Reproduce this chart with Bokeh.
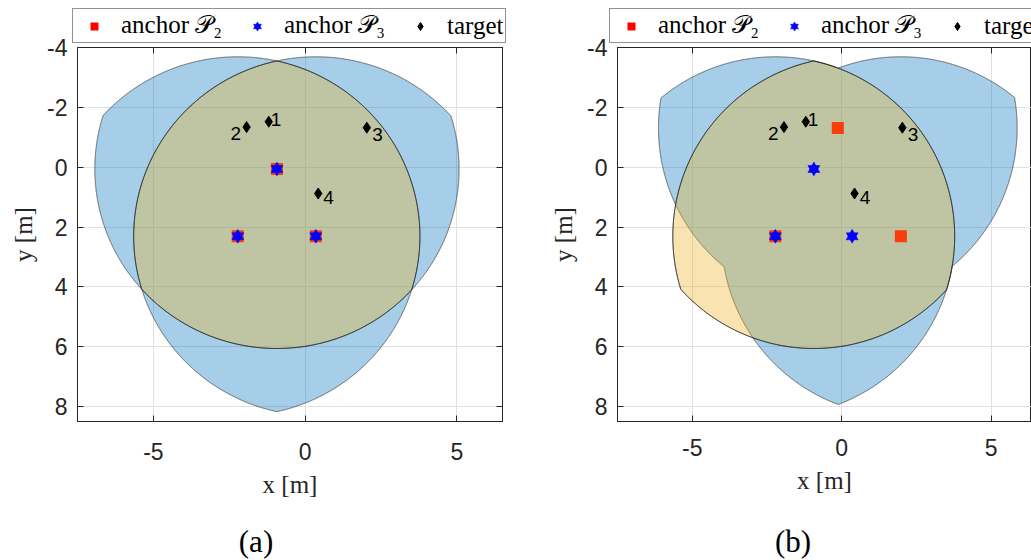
import numpy as np
from bokeh.plotting import figure
from bokeh.models import Range1d, LinearAxis, FixedTicker, Legend, LegendItem, Div, Spacer
from bokeh.layouts import row, column
from bokeh.embed import file_html
from bokeh.resources import INLINE
from bokeh.core.properties import value

# ---------------- data ----------------
range_m = 6.0                                   # ranging radius of every anchor [m]
p3_x = [-0.93, -2.22, 0.35]                     # anchor set P3 (both panels)
p3_y = [0.06, 2.31, 2.31]
p2a_x = [-0.93, -2.22, 0.35]                    # anchor set P2, panel (a)
p2a_y = [0.06, 2.31, 2.31]
p2b_x = [-2.22, -0.13, 1.98]                    # anchor set P2, panel (b)
p2b_y = [2.31, -1.31, 2.31]
target_x = [-1.20, -1.93, 2.03, 0.43]
target_y = [-1.52, -1.34, -1.32, 0.88]
target_labels = ["1", "2", "3", "4"]
x_ticks = [-5, 0, 5]
x_tick_labels = ["-5", "0", "5"]
y_ticks = [-4, -2, 0, 2, 4, 6, 8]
y_tick_labels = ["-4", "-2", "0", "2", "4", "6", "8"]
legend_labels = ["anchor 𝒫₂", "anchor 𝒫₃", "target"]
captions = ["(a)", "(b)"]
x_label = "x [m]"
y_label = "y [m]"

# ---------------- styles ----------------
INK = "#262626"
BLUE = "#0072BD"
YELLOW = "#EDB120"
STAR = 12
label_dx = [7.3, -10.7, 10.7, 10.4]   # pixel offsets of the target numbers
label_dy = [-2.6, 6.3, 7.0, 3.7]


def k_of_n_region(ax, ay, r, k, n_pts=4000):
    """Boundary of the set of points lying inside at least k of the circles."""
    ax = np.asarray(ax, float)
    ay = np.asarray(ay, float)
    cx, cy = ax.mean(), ay.mean()
    th = np.linspace(0, 2 * np.pi, n_pts, endpoint=False)
    ux, uy = np.cos(th), np.sin(th)
    dx = ax[None, :] - cx
    dy = ay[None, :] - cy
    b = ux[:, None] * dx + uy[:, None] * dy
    c = dx ** 2 + dy ** 2 - r ** 2
    t = b + np.sqrt(b ** 2 - c)
    tk = np.sort(t, axis=1)[:, ::-1][:, k - 1]
    return list(cx + tk * ux), list(cy + tk * uy)


def style_axis(axis, ticks, labels, show_labels=True):
    axis.ticker = FixedTicker(ticks=ticks)
    axis.major_tick_in = 6
    axis.major_tick_out = 0
    axis.minor_tick_in = 0
    axis.minor_tick_out = 0
    axis.axis_line_color = INK
    axis.axis_line_width = 1
    axis.major_tick_line_color = INK
    if show_labels:
        axis.major_label_overrides = {t: s for t, s in zip(ticks, labels)}
        axis.major_label_text_font = "Liberation Sans"
        axis.major_label_text_font_size = "23px"
        axis.major_label_text_color = INK
    else:
        axis.major_label_overrides = {t: "" for t in ticks}
        axis.major_label_text_font_size = "0px"
        axis.major_label_text_alpha = 0
        axis.major_label_standoff = 0


def make_panel(p2x, p2y, width, height, x_end, borders, tick_standoff, right_axis):
    left, right, top, bottom = borders
    p = figure(width=width, height=height,
               x_range=Range1d(-7.5, x_end), y_range=Range1d(8.5, -4),
               output_backend="svg", toolbar_location=None, title_location=None,
               min_border_left=left, min_border_right=right,
               min_border_top=top, min_border_bottom=bottom,
               outline_line_color=INK, outline_line_width=1,
               background_fill_color="white", border_fill_alpha=0, margin=0)

    style_axis(p.xaxis[0], x_ticks, x_tick_labels)
    p.xaxis[0].major_label_standoff = tick_standoff
    p.xaxis[0].axis_label = x_label
    style_axis(p.yaxis[0], y_ticks, y_tick_labels)
    p.yaxis[0].major_label_standoff = 10
    p.yaxis[0].axis_label = y_label
    for ax in (p.xaxis[0], p.yaxis[0]):
        ax.axis_label_text_font = "Liberation Serif"
        ax.axis_label_text_font_size = "25px"
        ax.axis_label_text_font_style = "normal"
        ax.axis_label_text_color = INK
    p.xaxis[0].axis_label_standoff = 8
    p.yaxis[0].axis_label_standoff = 7

    top_ax = LinearAxis()
    style_axis(top_ax, x_ticks, x_tick_labels, show_labels=False)
    p.add_layout(top_ax, "above")
    if right_axis:
        rgt = LinearAxis()
        style_axis(rgt, y_ticks, y_tick_labels, show_labels=False)
        p.add_layout(rgt, "right")

    p.xgrid.ticker = FixedTicker(ticks=x_ticks)
    p.ygrid.ticker = FixedTicker(ticks=y_ticks)
    p.grid.grid_line_color = "#E1E1E1"
    p.grid.grid_line_width = 1

    bx, by = k_of_n_region(p2x, p2y, range_m, 2)
    yx, yy = k_of_n_region(p3_x, p3_y, range_m, 3)
    p.patch(bx, by, fill_color=BLUE, fill_alpha=0.35,
            line_color="#333333", line_width=0.8, line_alpha=0.85)
    p.scatter(p2x, p2y, marker="square", size=12,
              fill_color="#FF0000", line_color="#FF0000", line_width=0)
    p.patch(yx, yy, fill_color=YELLOW, fill_alpha=0.35,
            line_color="black", line_width=1)
    for m in ("triangle", "inverted_triangle"):
        p.scatter(p3_x, p3_y, marker=m, size=STAR,
                  fill_color="#0000FF", line_color="#0000FF", line_width=0.5)
    p.scatter(target_x, target_y, marker="diamond", size=11,
              fill_color="black", line_color="black")
    p.text(x=target_x, y=target_y, text=target_labels, x_offset=label_dx, y_offset=label_dy,
           text_font=value("Liberation Sans"), text_font_size="19px",
           text_align="center", text_baseline="middle", text_color="black")
    return p


def make_legend(p2x, p2y, width, height, legend_x, legend_y):
    # a strip above the panel; its glyph renderers use the same data but lie outside the view
    f = figure(width=width, height=height, x_range=Range1d(100, 101), y_range=Range1d(100, 101),
               x_axis_location=None, y_axis_location=None, toolbar_location=None,
               title_location=None, output_backend="svg", min_border=0,
               outline_line_color=None, background_fill_color="white",
               border_fill_color="white", margin=0)
    f.grid.visible = False
    sq = f.scatter(p2x, p2y, marker="square", size=12,
                   fill_color="#FF0000", line_color="#FF0000", line_width=0)
    tri = f.scatter(p3_x, p3_y, marker="triangle", size=STAR,
                    fill_color="#0000FF", line_color="#0000FF", line_width=0.5)
    inv = f.scatter(p3_x, p3_y, marker="inverted_triangle", size=STAR,
                    fill_color="#0000FF", line_color="#0000FF", line_width=0.5)
    dia = f.scatter(target_x, target_y, marker="diamond", size=11,
                    fill_color="black", line_color="black")
    legend = Legend(items=[LegendItem(label=legend_labels[0], renderers=[sq]),
                           LegendItem(label=legend_labels[1], renderers=[tri, inv]),
                           LegendItem(label=legend_labels[2], renderers=[dia])],
                    orientation="horizontal", location=(legend_x, legend_y),
                    label_text_font="Liberation Serif", label_text_font_size="25px",
                    label_text_color="black", glyph_width=38, glyph_height=20,
                    label_standoff=8, spacing=16, padding=2, margin=0,
                    border_line_color=INK, border_line_width=1,
                    background_fill_color="white", background_fill_alpha=1)
    f.add_layout(legend)
    return f


def caption_div(text, width, height):
    html = ('<div style="width:%dpx;font-family:\'Liberation Serif\';font-size:31px;'
            'line-height:31px;text-align:center;padding-top:10px;color:#000;">%s</div>'
            % (width, text))
    return Div(text=html, width=width, height=height, margin=0)


# page geometry (no page margin): frames 425x379 at (77,47) and 414x375 at (617,46)
leg1 = make_legend(p2a_x, p2a_y, 540, 45, 72, 2)
leg2 = make_legend(p2b_x, p2b_y, 491, 45, 69, 2)
p1 = make_panel(p2a_x, p2a_y, 540, 486, 6.5, (77, 38, 17, 90), 21, True)
p2 = make_panel(p2b_x, p2b_y, 491, 486, 6.35, (77, 0, 16, 95), 17, False)
cap1 = caption_div(captions[0], 512, 44)
cap2 = caption_div(captions[1], 476, 44)

layout = column(row(leg1, leg2, spacing=0),
                row(p1, p2, spacing=0, margin=(-15, 0, 0, 0)),
                row(cap1, Spacer(width=43, height=44, margin=0), cap2, spacing=0),
                spacing=0)
open("out.html", "w").write(file_html(layout, INLINE))
